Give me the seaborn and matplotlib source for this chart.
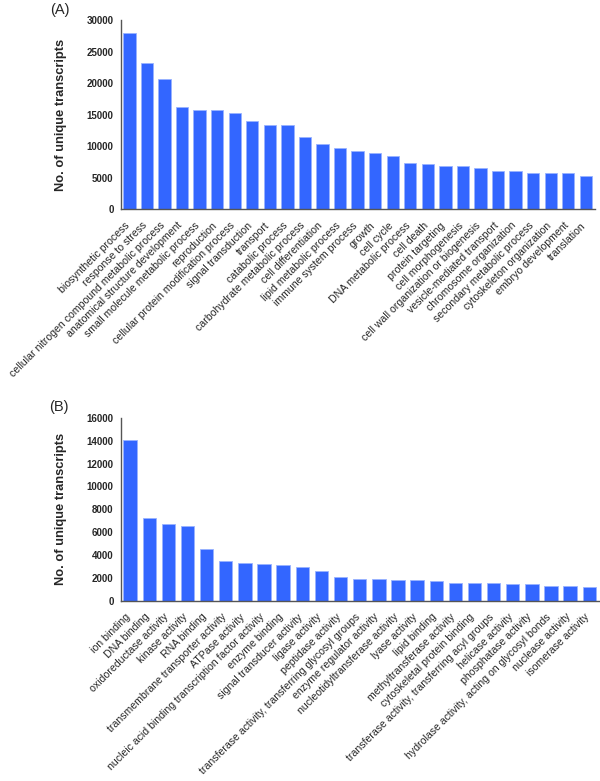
import matplotlib
matplotlib.use("Agg")
import matplotlib.pyplot as plt
import matplotlib.transforms as mtransforms
import seaborn as sns
import numpy as np
import pandas as pd

bp_terms = ["biosynthetic process", "response to stress",
            "cellular nitrogen compound metabolic process",
            "anatomical structure development", "small molecule metabolic process",
            "reproduction", "cellular protein modification process",
            "signal transduction", "transport", "catabolic process",
            "carbohydrate metabolic process", "cell differentiation",
            "lipid metabolic process", "immune system process", "growth",
            "cell cycle", "DNA metabolic process", "cell death",
            "protein targeting", "cell morphogenesis",
            "cell wall organization or biogenesis", "vesicle-mediated transport",
            "chromosome organization", "secondary metabolic process",
            "cytoskeleton organization", "embryo development", "translation"]
bp_counts = [27950, 23200, 20630, 16260, 15830, 15730, 15320, 14050, 13420,
             13310, 11530, 10360, 9680, 9260, 9000, 8420, 7310, 7200, 6950,
             6840, 6520, 6050, 6050, 5730, 5730, 5730, 5260]

mf_terms = ["ion binding", "DNA binding", "oxidoreductase activity",
            "kinase activity", "RNA binding", "transmembrane transporter activity",
            "ATPase activity", "nucleic acid binding transcription factor activity",
            "enzyme binding", "signal transducer activity", "ligase activity",
            "peptidase activity", "transferase activity, transferring glycosyl groups",
            "enzyme regulator activity", "nucleotidyltransferase activity",
            "lyase activity", "lipid binding", "methyltransferase activity",
            "cytoskeletal protein binding",
            "transferase activity, transferring acyl groups", "helicase activity",
            "phosphatase activity", "hydrolase activity, acting on glycosyl bonds",
            "nuclease activity", "isomerase activity"]
mf_counts = [14070, 7260, 6680, 6500, 4550, 3470, 3300, 3240, 3100, 2970, 2600,
             2100, 1870, 1870, 1780, 1780, 1720, 1570, 1570, 1570, 1460, 1430,
             1310, 1310, 1200]

A_ticks = [0, 5000, 10000, 15000, 20000, 25000, 30000]
B_ticks = [0, 2000, 4000, 6000, 8000, 10000, 12000, 14000, 16000]

sns.set_style("white")
plt.rcParams['font.family'] = ['Liberation Sans', 'DejaVu Sans']

fig = plt.figure(figsize=(6, 7.81), dpi=100)
axA = fig.add_axes([0.201, 0.732, 0.790, 0.242])
axB = fig.add_axes([0.201, 0.231, 0.797, 0.234])

bar_color = "#3366FF"
edge_color = "#99B3FF"

def draw(ax, terms, counts, ticks, label):
    df = pd.DataFrame({"term": terms, "count": counts})
    sns.barplot(data=df, x="term", y="count", ax=ax, color=bar_color,
                saturation=1, width=0.7, edgecolor=edge_color, linewidth=0.6)
    n = len(terms)
    ax.set_xlim(-0.5, n - 0.5)
    ax.set_ylim(0, ticks[-1])
    ax.set_yticks(ticks)
    ax.set_yticklabels([str(t) for t in ticks], fontsize=7, fontweight='bold')
    ax.set_xticks(range(n))
    ax.set_xticklabels([])
    ax.tick_params(axis='x', which='major', length=0)
    offset = mtransforms.ScaledTranslation(-0.05, -0.112, fig.dpi_scale_trans)
    trans = ax.get_xaxis_transform() + offset
    for i, t in enumerate(terms):
        ax.text(i, 0, t, transform=trans, rotation=45, ha='right', va='top',
                rotation_mode='anchor', fontsize=7.6)
    ax.set_xticks(np.arange(-0.5, n, 1.0), minor=True)
    ax.tick_params(axis='x', which='minor', direction='in', length=3,
                   width=0.8, color='#333333')
    ax.tick_params(axis='y', which='major', direction='out', length=3,
                   width=0.8, color='#333333', pad=2)
    ax.set_xlabel("")
    ax.set_ylabel("No. of unique transcripts", fontsize=9.3, fontweight='bold',
                  labelpad=14)
    for s in ["top", "right"]:
        ax.spines[s].set_visible(False)
    for s in ["left", "bottom"]:
        ax.spines[s].set_color('#555555')
        ax.spines[s].set_linewidth(1.0)
    ax.text(-0.149, 1.057, label, transform=ax.transAxes, fontsize=10.5,
            ha='left', va='center')

draw(axA, bp_terms, bp_counts, A_ticks, "(A)")
draw(axB, mf_terms, mf_counts, B_ticks, "(B)")

fig.savefig("out.png", dpi=100)
